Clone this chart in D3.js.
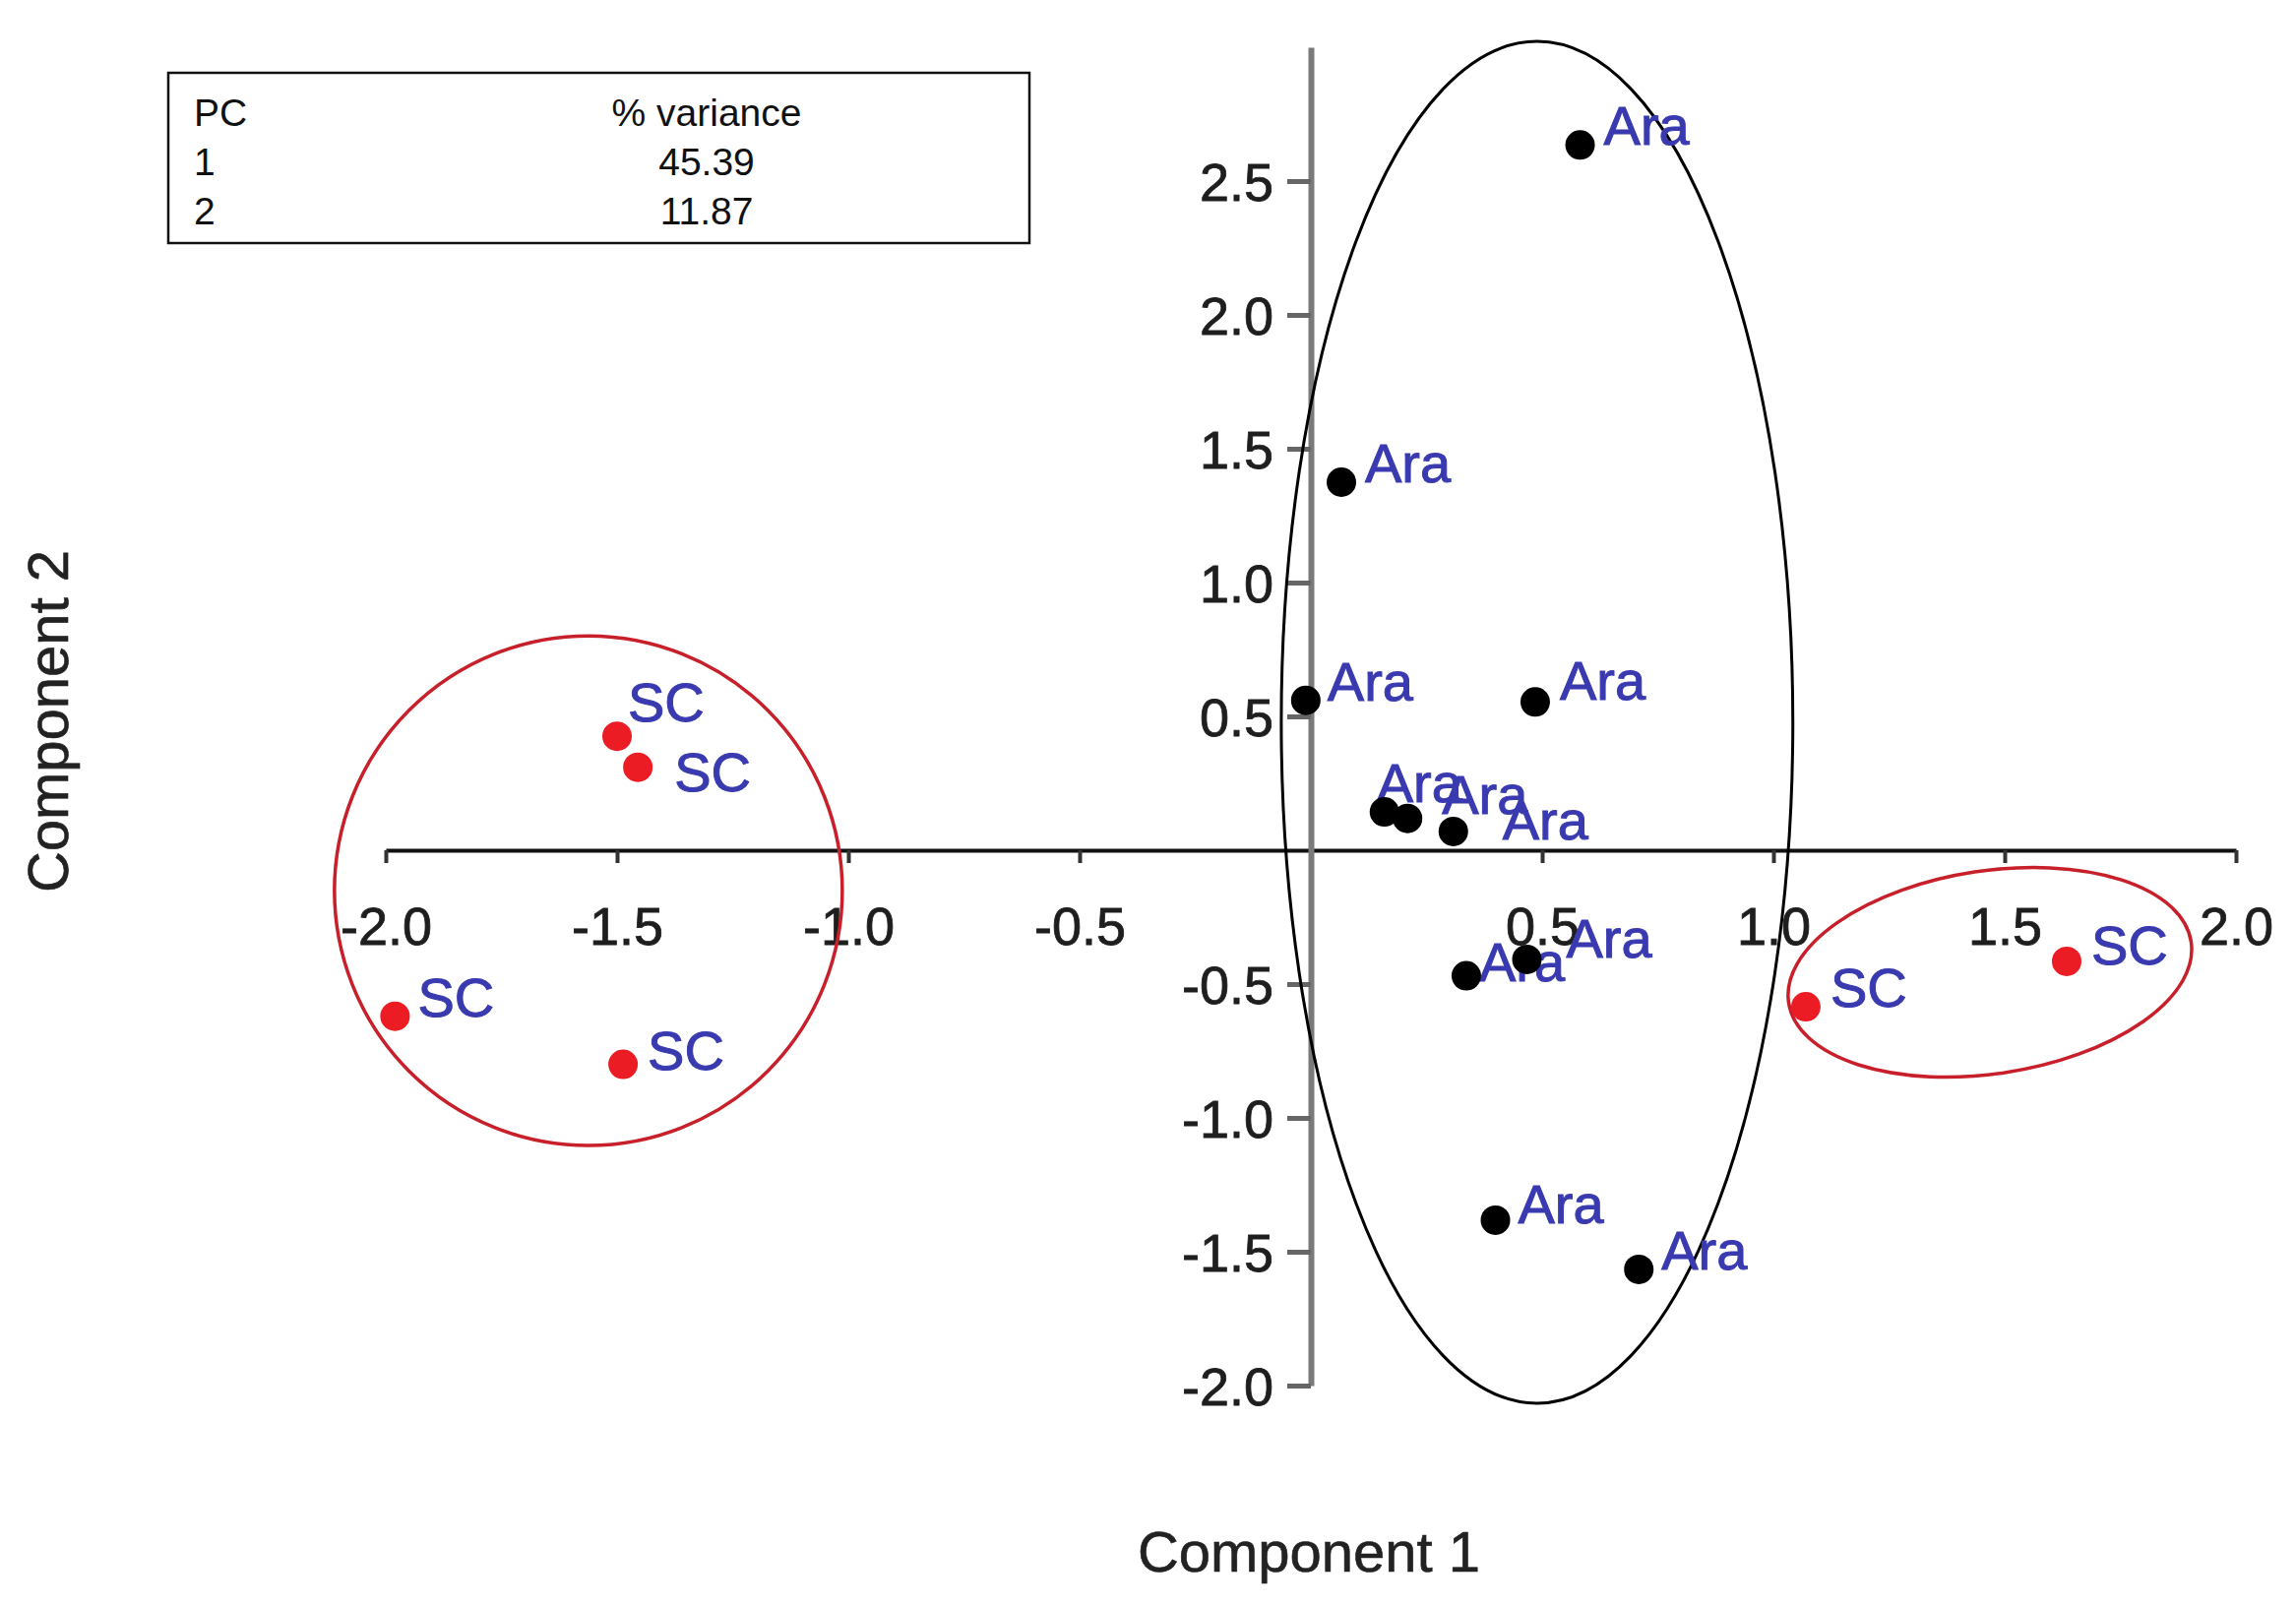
<!DOCTYPE html>
<html>
<head>
<meta charset="utf-8">
<script src="https://cdn.jsdelivr.net/npm/d3@7"></script>
<style>
  html, body { margin: 0; padding: 0; background: #fff; }
  svg { display: block; font-family: "Liberation Sans", Arial, Helvetica, sans-serif; }
</style>
</head>
<body>
<div id="chart"></div>
<script>
// PCA scores
const araPc1 = [0.582, 0.066, -0.011, 0.485, 0.159, 0.209, 0.308, 0.336, 0.467, 0.399, 0.709];
const araPc2 = [2.635, 1.375, 0.56, 0.554, 0.143, 0.119, 0.07, -0.469, -0.408, -1.382, -1.566];
const scPc1 = [-1.50, -1.455, -1.98, -1.487, 1.07, 1.634];
const scPc2 = [0.426, 0.31, -0.62, -0.80, -0.585, -0.415];

// variance table
const pcNumbers = ["1", "2"];
const pcVariance = ["45.39", "11.87"];

// tick labels
const xTicks = [-2, -1.5, -1, -0.5, 0.5, 1, 1.5, 2];
const yTicks = [-2, -1.5, -1, -0.5, 0.5, 1, 1.5, 2, 2.5];

// group outlines in data units: centre, half widths, tilt (deg)
const outlineGroup = ["Ara", "SC", "SC"];
const outlineCx = [0.489, -1.562, 1.468];
const outlineCy = [0.478, -0.151, -0.456];
const outlineRx = [0.553, 0.549, 0.440];
const outlineRy = [2.544, 0.952, 0.379];
const outlineTilt = [0, 0, -8.6];

// label nudges in px (the original placement avoided collisions by hand)
const araLabelShift = [[24, 0], [24, 0], [22, 0], [25, -2], [-8, -10], [35, -5], [50, 8], [13, 5], [40, -2], [23, 3], [23, 0]];
const scLabelShift = [[11, -15], [37, 24], [23, 0], [25, 5], [25, 0], [25, 3]];

const width = 2333, height = 1632;

const svg = d3.select("#chart")
  .append("svg")
  .attr("width", width)
  .attr("height", height);

svg.append("rect").attr("width", width).attr("height", height).attr("fill", "#fff");

const x = d3.scaleLinear().domain([-2, 2]).range([392, 2272]);
const y = d3.scaleLinear().domain([-2, 3]).range([1408, 48]);

const fmt = d => d.toFixed(1);

// x axis through y = 0
const xAxis = svg.append("g")
  .attr("transform", `translate(0,${y(0)})`)
  .call(d3.axisBottom(x).tickValues(xTicks).tickSize(13).tickSizeOuter(0).tickFormat(fmt));
xAxis.select(".domain").attr("stroke", "#111").attr("stroke-width", 4);
xAxis.selectAll(".tick line").attr("stroke", "#333").attr("stroke-width", 4);
xAxis.selectAll(".tick text")
  .attr("y", 96).attr("dy", 0)
  .attr("fill", "#1e1e1e")
  .attr("stroke", "#1e1e1e").attr("stroke-width", 0.8)
  .style("font-size", "54px");

// y axis through x = 0
const yAxis = svg.append("g")
  .attr("transform", `translate(${x(0)},0)`)
  .call(d3.axisLeft(y).tickValues(yTicks).tickSize(24).tickPadding(14).tickSizeOuter(0).tickFormat(fmt));
yAxis.select(".domain").attr("stroke", "#7a7a7a").attr("stroke-width", 6);
yAxis.selectAll(".tick line").attr("stroke", "#666").attr("stroke-width", 5);
yAxis.selectAll(".tick text")
  .attr("fill", "#1e1e1e")
  .attr("stroke", "#1e1e1e").attr("stroke-width", 0.8)
  .attr("dy", "0.36em")
  .style("font-size", "54px");

// group outlines
const outlineColor = d3.scaleOrdinal().domain(["Ara", "SC"]).range(["#000", "#c8202a"]);
svg.append("g")
  .selectAll("ellipse")
  .data(outlineGroup.map((g, i) => ({ g, cx: outlineCx[i], cy: outlineCy[i], rx: outlineRx[i], ry: outlineRy[i], tilt: outlineTilt[i] })))
  .join("ellipse")
  .attr("transform", d => `translate(${x(d.cx)},${y(d.cy)}) rotate(${d.tilt})`)
  .attr("rx", d => x(d.cx + d.rx) - x(d.cx))
  .attr("ry", d => y(d.cy) - y(d.cy + d.ry))
  .attr("fill", "none")
  .attr("stroke", d => outlineColor(d.g))
  .attr("stroke-width", d => d.g === "SC" ? 3.5 : 3);

const ara = araPc1.map((v, i) => ({ pc1: v, pc2: araPc2[i], name: "Ara", shift: araLabelShift[i] }));
const sc = scPc1.map((v, i) => ({ pc1: v, pc2: scPc2[i], name: "SC", shift: scLabelShift[i] }));
const samples = ara.concat(sc);

// labels
svg.append("g")
  .selectAll("text")
  .data(samples)
  .join("text")
  .attr("x", d => x(d.pc1) + d.shift[0])
  .attr("y", d => y(d.pc2) + d.shift[1])
  .attr("fill", "#3a3ab0")
  .attr("stroke", "#3a3ab0")
  .attr("stroke-width", 1)
  .style("font-size", "56px")
  .text(d => d.name);

// points
const pointColor = d3.scaleOrdinal().domain(["Ara", "SC"]).range(["#000", "#ec1c24"]);
svg.append("g")
  .selectAll("circle")
  .data(samples)
  .join("circle")
  .attr("cx", d => x(d.pc1))
  .attr("cy", d => y(d.pc2))
  .attr("r", 15)
  .attr("fill", d => pointColor(d.name));

// axis titles
svg.append("text")
  .attr("x", 1330)
  .attr("y", 1597)
  .attr("text-anchor", "middle")
  .attr("fill", "#222")
  .attr("stroke", "#222").attr("stroke-width", 0.6)
  .style("font-size", "58px")
  .text("Component 1");

svg.append("text")
  .attr("transform", "translate(69,733) rotate(-90)")
  .attr("text-anchor", "middle")
  .attr("fill", "#222")
  .attr("stroke", "#222").attr("stroke-width", 0.6)
  .style("font-size", "58px")
  .text("Component 2");

// variance table
const table = svg.append("g");
table.append("rect")
  .attr("x", 171).attr("y", 74)
  .attr("width", 875).attr("height", 173)
  .attr("fill", "#fff")
  .attr("stroke", "#111")
  .attr("stroke-width", 2.5);

const rows = [["PC", "% variance"]].concat(pcNumbers.map((p, i) => [p, pcVariance[i]]));
const row = table.selectAll("g.row")
  .data(rows)
  .join("g")
  .attr("class", "row")
  .attr("transform", (d, i) => `translate(0,${128 + i * 50})`);
row.append("text")
  .attr("x", 197)
  .attr("fill", "#111")
  .style("font-size", "39px")
  .text(d => d[0]);
row.append("text")
  .attr("x", 718)
  .attr("text-anchor", "middle")
  .attr("fill", "#111")
  .style("font-size", "39px")
  .text(d => d[1]);
</script>
</body>
</html>
